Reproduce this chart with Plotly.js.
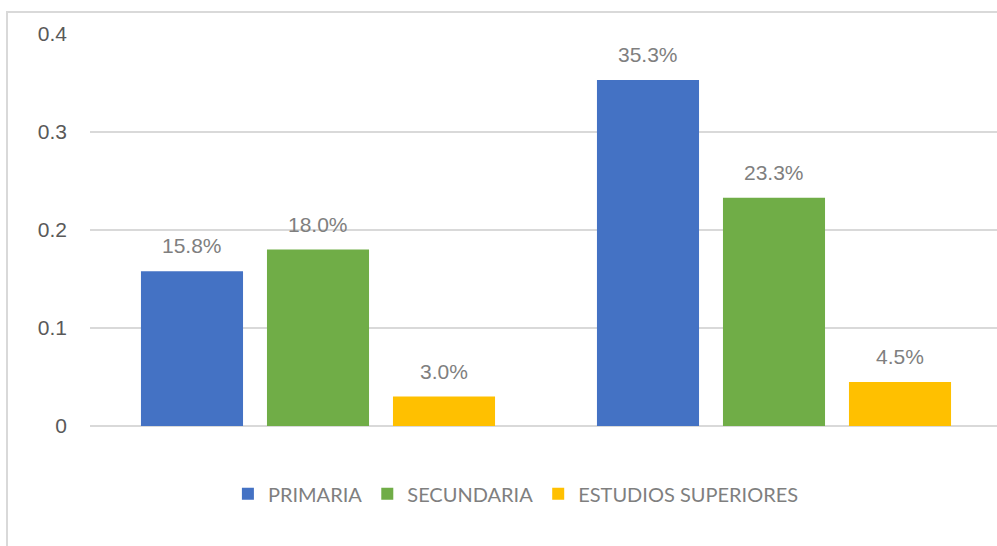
<!DOCTYPE html>
<html>
<head>
<meta charset="utf-8">
<script src="https://cdn.plot.ly/plotly-3.0.1.min.js"></script>
<style>
  html, body { margin: 0; padding: 0; background: #ffffff; overflow: hidden; width: 997px; height: 546px; }
  #frame { position: absolute; left: 6px; top: 11px; width: 1100px; height: 600px;
           border-left: 2px solid #d9d9d9; border-top: 2px solid #d9d9d9; pointer-events: none; }
  #chart { position: absolute; left: 0; top: 0; }
</style>
</head>
<body>
<div id="chart"></div>
<div id="frame"></div>
<script>
const categories = ["Grupo 1", "Grupo 2"];
const seriesNames = ["PRIMARIA", "SECUNDARIA", "ESTUDIOS SUPERIORES"];
const primaria = [0.158, 0.353];
const secundaria = [0.180, 0.233];
const superiores = [0.030, 0.045];
const seriesValues = [primaria, secundaria, superiores];
const colors = ["#4472c4", "#70ad47", "#ffc000"];

const traces = seriesValues.map((vals, i) => ({
  type: "bar",
  name: seriesNames[i],
  x: categories,
  y: vals,
  marker: { color: colors[i] },
  hoverinfo: "none"
}));

// bar slot width in px (category width 912/2 * (1-bargap) / 3)
const slot = 126;
const annotations = [];
seriesValues.forEach((vals, i) => {
  vals.forEach((v, j) => {
    annotations.push({
      x: categories[j], y: v, xref: "x", yref: "y",
      text: (v * 100).toFixed(1) + "%",
      showarrow: false,
      xshift: (i - 1) * slot,
      yanchor: "bottom",
      yshift: 12,
      font: { family: "Liberation Sans, Arial, sans-serif", size: 21, color: "#7f7f7f" }
    });
  });
});

const layout = {
  width: 1010,
  height: 546,
  margin: { l: 90, r: 8, t: 34, b: 120 },
  paper_bgcolor: "rgba(0,0,0,0)",
  plot_bgcolor: "rgba(0,0,0,0)",
  barmode: "group",
  bargap: 0.171,
  bargroupgap: 0.19,
  showlegend: true,
  legend: {
    orientation: "h",
    x: 0.467, xanchor: "center",
    y: -0.173, yanchor: "middle",
    itemwidth: 30,
    font: { family: "Lato, Open Sans, sans-serif", size: 20, color: "#7f7f7f" },
    itemclick: false
  },
  xaxis: {
    type: "category",
    showticklabels: false,
    showgrid: false,
    zeroline: false,
    showline: false,
    ticks: ""
  },
  yaxis: {
    range: [0, 0.4],
    dtick: 0.1,
    tick0: 0,
    showgrid: true,
    gridcolor: "#d9d9d9",
    gridwidth: 1.5,
    zeroline: true,
    zerolinecolor: "#d9d9d9",
    zerolinewidth: 2,
    showline: false,
    ticks: "",
    ticklabelstandoff: 22,
    tickfont: { family: "Liberation Sans, Arial, sans-serif", size: 21, color: "#595959" }
  },
  annotations: annotations
};

Plotly.newPlot("chart", traces, layout, { displayModeBar: false, staticPlot: true });
</script>
</body>
</html>
